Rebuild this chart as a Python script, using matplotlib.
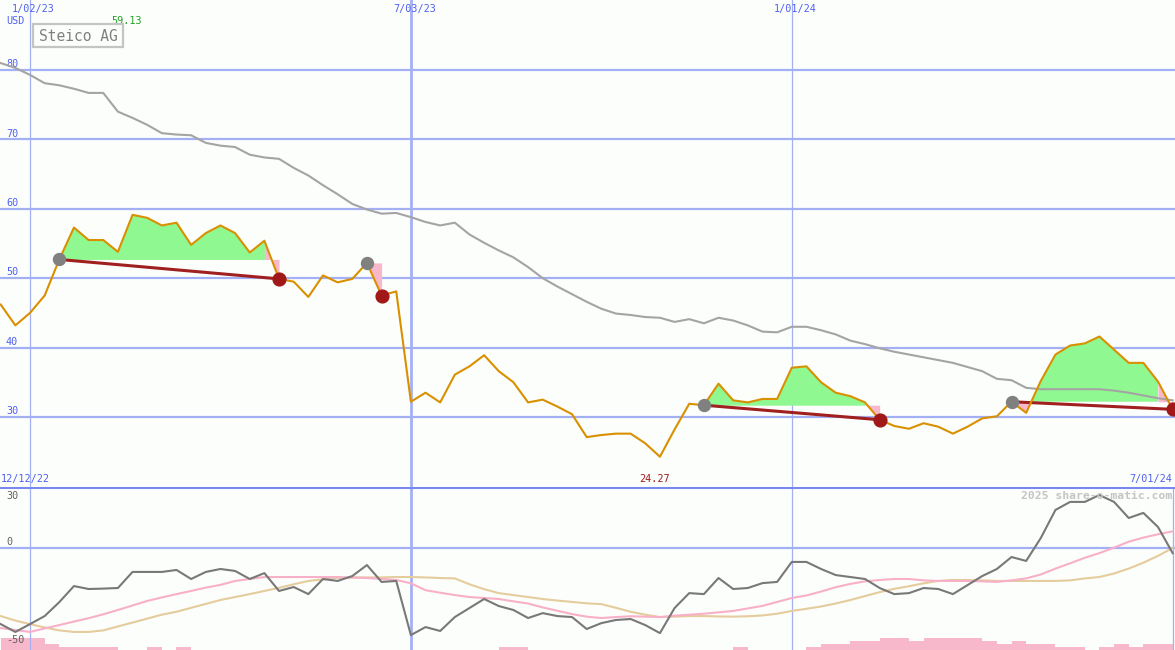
import numpy as np
import matplotlib
matplotlib.use('Agg')
import matplotlib.pyplot as plt
import matplotlib.transforms as mtransforms
from matplotlib.patches import Rectangle

# weekly data, week 0 = 1/02/23
weeks = np.arange(-2, 79)

price = [46.2, 43.2, 45.0, 47.5, 52.7, 57.3, 55.5, 55.5, 53.8, 59.13,
         58.7, 57.6, 58.0, 54.8, 56.5, 57.6, 56.5, 53.7, 55.4, 49.9,
         49.5, 47.3, 50.4, 49.4, 49.9, 52.2, 47.5, 48.1,
         32.2, 33.5, 32.1, 36.1, 37.3, 38.9, 36.6, 35.0, 32.1, 32.5,
         31.5, 30.4, 27.1, 27.4, 27.6, 27.6, 26.2, 24.27, 28.2, 31.9,
         31.7, 34.8, 32.4, 32.1, 32.6, 32.6, 37.1, 37.3, 35.0, 33.5,
         33.0, 32.1, 29.6,
         28.7, 28.3, 29.1, 28.6, 27.6, 28.6, 29.8, 30.1, 32.2, 30.6,
         35.2, 39.0, 40.3, 40.6, 41.6, 39.7, 37.8, 37.8, 35.1, 31.1]

long_avg = [81.0, 80.3, 79.3, 78.1, 77.8, 77.3, 76.7, 76.7, 74.0, 73.1,
            72.1, 70.9, 70.7, 70.6, 69.5, 69.1, 68.9, 67.8, 67.4, 67.2,
            65.9, 64.8, 63.4, 62.1, 60.7, 59.9, 59.3, 59.4,
            58.8, 58.1, 57.6, 58.0, 56.3, 55.1, 54.0, 53.0, 51.6, 50.0,
            48.8, 47.7, 46.6, 45.6, 44.9, 44.7, 44.4, 44.3, 43.7, 44.1,
            43.5, 44.3, 43.9, 43.2, 42.3, 42.2, 43.0, 43.0, 42.5, 41.9,
            41.0, 40.5, 39.9,
            39.4, 39.0, 38.6, 38.2, 37.8, 37.2, 36.6, 35.5, 35.3, 34.2,
            34.0, 34.0, 34.0, 34.0, 34.0, 33.8, 33.5, 33.1, 32.7, 32.4]

momentum = [-38.8, -42.8, -38.8, -34.7, -27.6, -19.4, -20.9, -20.7, -20.4, -12.2,
            -12.2, -12.2, -11.2, -15.8, -12.2, -10.7, -11.7, -15.8, -12.8, -21.9,
            -19.9, -23.5, -15.8, -16.8, -14.3, -8.7, -17.3, -16.8,
            -44.4, -40.3, -42.3, -35.2, -30.6, -26.0, -29.6, -31.6, -35.7, -33.2,
            -34.7, -35.2, -41.3, -38.3, -36.7, -36.2, -39.3, -43.4, -30.6, -23.0,
            -23.5, -15.3, -20.9, -20.4, -17.9, -17.3, -7.1, -7.1, -10.7, -13.8,
            -14.8, -15.8, -20.4,
            -23.5, -23.0, -20.4, -20.9, -23.5, -18.9, -14.3, -10.7, -4.6, -6.6,
            5.1, 19.4, 23.5, 23.5, 27.0, 23.5, 15.3, 17.9, 10.7, -2.6]

mom_fast = [-40.8, -41.8, -42.8, -41.0, -39.3, -37.5, -35.8, -33.8, -31.6, -29.3,
            -27.0, -25.2, -23.5, -21.9, -20.2, -18.8, -16.8, -15.8, -14.8, -14.8,
            -14.8, -14.8, -14.8, -14.8, -15.1, -15.3, -15.8, -16.3,
            -18.0, -21.5, -22.8, -24.0, -25.0, -25.5, -26.0, -27.2, -28.3, -30.3,
            -32.0, -33.7, -35.0, -35.7, -35.2, -34.8, -35.0, -35.2, -34.5, -34.0,
            -33.5, -32.8, -32.1, -30.8, -29.5, -27.5, -25.5, -24.2, -22.2, -20.0,
            -18.3, -17.0, -16.3,
            -15.8, -15.8, -16.5, -16.8, -16.8, -16.8, -17.0, -17.3, -16.5, -15.5,
            -13.5, -10.5, -7.8, -5.0, -2.6, 0.2, 3.2, 5.3, 7.0, 8.5]

mom_slow = [-34.7, -37.0, -38.8, -40.5, -42.0, -42.8, -42.8, -42.0, -40.0, -38.0,
            -36.0, -34.0, -32.5, -30.5, -28.5, -26.5, -25.0, -23.5, -21.9, -20.3,
            -18.5, -16.8, -16.0, -15.3, -15.0, -15.0, -15.0, -14.8,
            -14.8, -15.0, -15.3, -15.5, -18.5, -21.0, -23.0, -24.0, -25.0, -26.0,
            -26.8, -27.5, -28.2, -28.6, -30.5, -32.5, -34.0, -35.2, -35.0, -34.7,
            -34.7, -34.9, -35.0, -34.8, -34.4, -33.5, -32.1, -31.0, -29.8, -28.3,
            -26.5, -24.5, -22.5,
            -20.8, -19.5, -18.0, -16.8, -16.3, -16.3, -16.5, -16.8, -16.8, -16.8,
            -16.8, -16.8, -16.5, -15.5, -14.8, -13.0, -10.5, -7.5, -4.0, 0.0]

volume = [4, 4, 4, 2, 1, 1, 1, 1, 0, 0,
          1, 0, 1, 0, 0, 0, 0, 0, 0, 0,
          0, 0, 0, 0, 0, 0, 0, 0,
          0, 0, 0, 0, 0, 0, 1, 1, 0, 0,
          0, 0, 0, 0, 0, 0, 0, 0, 0, 0,
          0, 0, 1, 0, 0, 0, 0, 1, 2, 2,
          3, 3, 4,
          4, 3, 4, 4, 4, 4, 3, 2, 3, 2,
          2, 1, 1, 0, 1, 2, 1, 2, 2, 0]

# patterns: start week, breakout week, end week
pat_start = [2, 23, 46, 67]
pat_break = [16, 23, 57, 77]
pat_end = [17, 24, 58, 78]

date_weeks = [0, 26, 52]
date_labels = ['1/02/23', '7/03/23', '1/01/24']
price_ticks = [30, 40, 50, 60, 70, 80]
osc_ticks = [30, 0, -50]

price = np.array(price)
bg = '#fcfefc'
grid = '#a4b0f4'
blue_txt = '#5060f0'
mono = 'DejaVu Sans Mono'
fs = 7.3

W, H = 1175.0, 650.0
def fy(y):
    return 1 - y / H

fig = plt.figure(figsize=(11.75, 6.5), dpi=100)
fig.patch.set_facecolor(bg)
ax = fig.add_axes([0, 163/650, 1, 487/650])
ax2 = fig.add_axes([0, 0, 1, 163/650])
for a in (ax, ax2):
    a.set_xlim(-2.048, 78.16)
    a.axis('off')
ax.set_ylim(19.91, 90.09)
ax2.set_ylim(-52.0, 31.1)

# x in data (weeks), y in figure fraction
tr = mtransforms.blended_transform_factory(ax.transData, fig.transFigure)
# x in figure fraction, y in data
tr_main = mtransforms.blended_transform_factory(fig.transFigure, ax.transData)
tr_low = mtransforms.blended_transform_factory(fig.transFigure, ax2.transData)

# grid
for v in price_ticks:
    ax.axhline(v, color=grid, lw=1.6, zorder=1)
    ax.text(6 / W, v + 0.85, str(v), transform=tr_main, color=blue_txt, fontsize=fs,
            family=mono, va='center', ha='left')
for w, lab in zip(date_weeks, date_labels):
    lw = 2.0 if w == 26 else 0.9
    ax.axvline(w, color=grid, lw=lw, zorder=1)
    ax2.axvline(w, color=grid, lw=lw, zorder=1)
    ax.text(w + 0.25, fy(9), lab, transform=tr, color=blue_txt, fontsize=fs, family=mono,
            ha='center', va='center')
ax2.axvline(78, color=grid, lw=0.9, zorder=1)
ax2.axhline(0, color=grid, lw=1.6, zorder=1)
ax2.axhline(31.1, color='#7888f0', lw=2.2, zorder=1)
fig.text(6 / W, fy(21), 'USD', color=blue_txt, fontsize=fs, family=mono, va='center', ha='left')

# pattern fills and lines
for s, b, e in zip(pat_start, pat_break, pat_end):
    base = price[s + 2]
    if b > s:
        xs = weeks[s + 2:b + 3]
        ys = price[s + 2:b + 3]
        ax.fill_between(xs, ys, base, where=ys >= base, interpolate=True, color='#90f890', lw=0, zorder=2)
        ax.fill_between(xs, ys, base, where=ys < base, interpolate=True, color='#f8b8cc', lw=0, zorder=2)
        ax.plot([s, e], [base, price[e + 2]], color='#a02020', lw=2.2, zorder=3)
    ax.fill_between(weeks[b + 2:e + 3], price[b + 2:e + 3], base, color='#f8b8cc', lw=0, zorder=2)
    ax.plot(s, base, 'o', color='#808080', ms=8.6, zorder=5)
    ax.plot(e, price[e + 2], 'o', color='#a01818', ms=9.2, zorder=5)

ax.plot(weeks, long_avg, color='#a4a4a4', lw=1.5, zorder=3)
ax.plot(weeks, price, color='#d99000', lw=1.5, zorder=4)

imax = int(np.argmax(price))
imin = int(np.argmin(price))
ax.text(weeks[imax] - 0.4, fy(21), '%.2f' % price[imax], transform=tr, color='#20a020',
        fontsize=fs, family=mono, ha='center', va='center')
fig.patches.append(Rectangle((33 / W, fy(47)), 90 / W, 23 / H, transform=fig.transFigure,
                             fill=False, ec='#c4c4c4', lw=1.6))
fig.text(78 / W, fy(36.5), 'Steico AG', color='#808080', fontsize=10.5, family=mono,
         ha='center', va='center')

# lower panel
ax3 = ax2.twinx()
ax3.axis('off')
ax3.set_ylim(0, 163/3)
ax3.bar(weeks, volume, width=1.0, align='edge', color='#f8b8cc', lw=0, zorder=1)
ax2.set_zorder(ax3.get_zorder() + 1)
ax2.patch.set_visible(False)

ax2.plot(weeks, mom_slow, color='#e4cc9c', lw=1.5, zorder=3)
ax2.plot(weeks, mom_fast, color='#f8b0c8', lw=1.5, zorder=3)
ax2.plot(weeks, momentum, color='#787878', lw=1.5, zorder=4)

y_top = ax2.get_ylim()[1]
for v in osc_ticks:
    ax2.text(6 / W, min(v + 3.3, y_top - 4.8), str(v), transform=tr_low, color='#606060',
             fontsize=fs, family=mono, ha='left', va='center')
fig.text(1 / W, fy(479), '12/12/22', color=blue_txt, fontsize=fs, family=mono, ha='left', va='center')
fig.text(1172 / W, fy(479), '7/01/24', color=blue_txt, fontsize=fs, family=mono, ha='right', va='center')
ax.text(weeks[imin] - 0.4, fy(479), '%.2f' % price[imin], transform=tr, color='#a01818',
        fontsize=fs, family=mono, ha='center', va='center')
fig.text(1172 / W, fy(496), '2025 share-o-matic.com', color='#c4c4c4', fontsize=8.2,
         family=mono, fontweight='bold', ha='right', va='center')

fig.savefig('out.png', dpi=100, facecolor=bg)
